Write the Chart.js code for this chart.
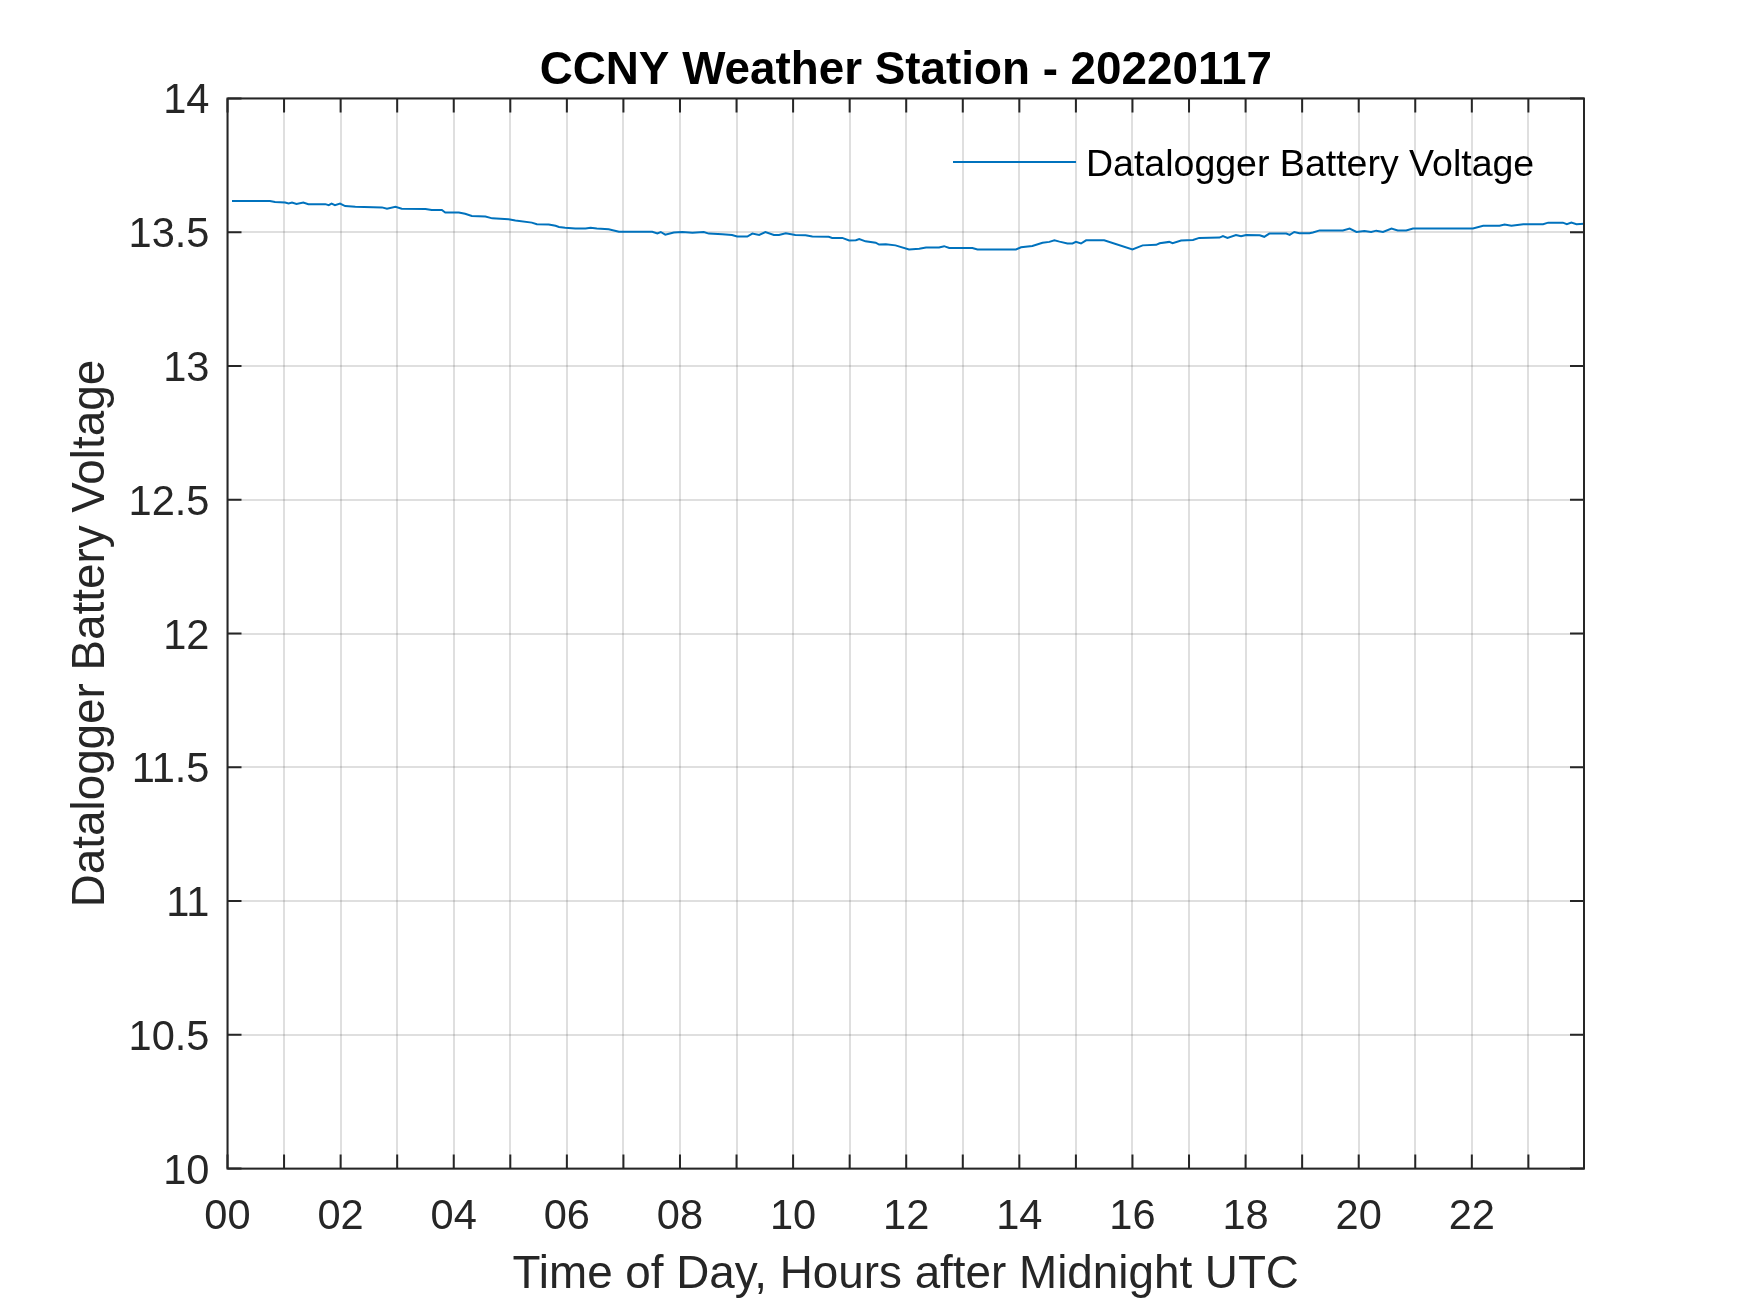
<!DOCTYPE html>
<html>
<head>
<meta charset="utf-8">
<title>CCNY Weather Station - 20220117</title>
<script src="https://cdn.jsdelivr.net/npm/chart.js@4.4.1/dist/chart.umd.min.js"></script>
<style>
    body { margin: 0; background: #fff; }
    #wrap { width: 1750px; height: 1313px; }
</style>
</head>
<body>
<div id="wrap"><canvas id="chart" width="1750" height="1313"></canvas></div>
<script>
// hours after midnight UTC
var hours = [
    0.08, 0.75, 0.84, 1.02, 1.08, 1.14, 1.22, 1.34, 1.43, 1.73,
    1.79, 1.84, 1.90, 1.99, 2.08, 2.26, 2.73, 2.82, 2.97, 3.08,
    3.50, 3.61, 3.79, 3.85, 4.09, 4.20, 4.32, 4.56, 4.68, 4.97,
    5.09, 5.38, 5.47, 5.68, 5.80, 5.86, 5.97, 6.15, 6.33, 6.42,
    6.53, 6.74, 6.92, 7.51, 7.60, 7.66, 7.74, 7.89, 8.04, 8.22,
    8.42, 8.51, 8.75, 8.92, 9.01, 9.19, 9.28, 9.40, 9.51, 9.66,
    9.75, 9.87, 10.04, 10.22, 10.34, 10.63, 10.69, 10.87, 10.99, 11.11,
    11.17, 11.28, 11.46, 11.52, 11.64, 11.81, 12.05, 12.23, 12.35, 12.58,
    12.67, 12.76, 13.17, 13.26, 13.94, 14.03, 14.23, 14.41, 14.53, 14.62,
    14.71, 14.85, 14.94, 15.00, 15.09, 15.18, 15.50, 16.00, 16.18, 16.42,
    16.48, 16.65, 16.71, 16.86, 17.07, 17.18, 17.54, 17.60, 17.68, 17.83,
    17.92, 18.01, 18.25, 18.33, 18.42, 18.72, 18.78, 18.86, 18.95, 19.13,
    19.19, 19.31, 19.72, 19.84, 19.96, 20.10, 20.22, 20.31, 20.43, 20.58,
    20.69, 20.84, 20.96, 22.02, 22.20, 22.49, 22.58, 22.70, 22.91, 23.26,
    23.35, 23.61, 23.68, 23.76, 23.85, 23.98
];
// datalogger battery voltage (V)
var volts = [
    13.617, 13.617, 13.613, 13.611, 13.608, 13.611, 13.606, 13.611, 13.605, 13.605,
    13.601, 13.607, 13.601, 13.607, 13.598, 13.595, 13.593, 13.588, 13.595, 13.588,
    13.587, 13.583, 13.583, 13.574, 13.574, 13.569, 13.561, 13.559, 13.552, 13.549,
    13.544, 13.536, 13.530, 13.529, 13.524, 13.520, 13.517, 13.514, 13.514, 13.517,
    13.514, 13.511, 13.502, 13.502, 13.496, 13.501, 13.491, 13.499, 13.501, 13.498,
    13.501, 13.495, 13.493, 13.490, 13.484, 13.484, 13.495, 13.490, 13.501, 13.490,
    13.490, 13.496, 13.490, 13.489, 13.484, 13.483, 13.479, 13.479, 13.469, 13.470,
    13.475, 13.466, 13.461, 13.454, 13.455, 13.451, 13.436, 13.438, 13.443, 13.443,
    13.448, 13.441, 13.441, 13.436, 13.436, 13.444, 13.449, 13.461, 13.464, 13.470,
    13.465, 13.458, 13.458, 13.464, 13.458, 13.470, 13.470, 13.436, 13.451, 13.453,
    13.459, 13.464, 13.459, 13.469, 13.471, 13.479, 13.480, 13.486, 13.479, 13.490,
    13.485, 13.490, 13.489, 13.483, 13.495, 13.495, 13.490, 13.501, 13.496, 13.496,
    13.499, 13.507, 13.507, 13.514, 13.501, 13.505, 13.501, 13.506, 13.501, 13.514,
    13.507, 13.507, 13.514, 13.514, 13.524, 13.524, 13.529, 13.524, 13.530, 13.530,
    13.536, 13.536, 13.530, 13.536, 13.530, 13.532
];
// tick labels, one per hour (odd hours have a tick but no label)
var hourLabels = ['00', '', '02', '', '04', '', '06', '', '08', '', '10', '',
                  '12', '', '14', '', '16', '', '18', '', '20', '', '22', ''];
var voltLabels = ['10', '10.5', '11', '11.5', '12', '12.5', '13', '13.5', '14'];

var FONT = '"Liberation Sans", Arial, Helvetica, sans-serif';
var AXIS_COLOR = '#262626';
var TICK_LEN = 14;

// MATLAB-style box with ticks pointing inwards
var boxPlugin = {
    id: 'matlabBox',
    afterDraw: function(chart) {
        var ctx = chart.ctx;
        var a = chart.chartArea;
        var xs = chart.scales.x;
        var ys = chart.scales.y;
        ctx.save();
        ctx.strokeStyle = AXIS_COLOR;
        ctx.lineWidth = 2;
        ctx.beginPath();
        xs.ticks.forEach(function(t) {
            var px = xs.getPixelForValue(t.value);
            ctx.moveTo(px, a.bottom);
            ctx.lineTo(px, a.bottom - TICK_LEN);
            ctx.moveTo(px, a.top);
            ctx.lineTo(px, a.top + TICK_LEN);
        });
        ys.ticks.forEach(function(t) {
            var py = ys.getPixelForValue(t.value);
            ctx.moveTo(a.left, py);
            ctx.lineTo(a.left + TICK_LEN, py);
            ctx.moveTo(a.right, py);
            ctx.lineTo(a.right - TICK_LEN, py);
        });
        ctx.stroke();
        ctx.strokeRect(a.left, a.top, a.right - a.left, a.bottom - a.top);

        // legend in the upper right corner
        var ds = chart.data.datasets[0];
        ctx.strokeStyle = ds.borderColor;
        ctx.lineWidth = 2;
        ctx.beginPath();
        ctx.moveTo(953, 162);
        ctx.lineTo(1076, 162);
        ctx.stroke();
        ctx.fillStyle = '#000';
        ctx.font = '37.5px ' + FONT;
        ctx.textAlign = 'left';
        ctx.textBaseline = 'alphabetic';
        ctx.fillText(ds.label, 1086, 176);
        ctx.restore();
    }
};

window.onload = function() {
    var points = hours.map(function(h, i) { return {x: h, y: volts[i]}; });
    var ctx = document.getElementById('chart').getContext('2d');
    new Chart(ctx, {
        type: 'line',
        data: {
            datasets: [{
                label: 'Datalogger Battery Voltage',
                data: points,
                borderColor: '#0072BD',
                backgroundColor: '#0072BD',
                borderWidth: 2,
                pointRadius: 0,
                tension: 0,
                fill: false
            }]
        },
        plugins: [boxPlugin],
        options: {
            responsive: false,
            animation: false,
            devicePixelRatio: 1,
            layout: { padding: { top: 0, right: 166, bottom: 0, left: 0 } },
            plugins: {
                legend: { display: false },
                tooltip: { enabled: false },
                title: {
                    display: true,
                    text: 'CCNY Weather Station - 20220117',
                    fullSize: false,
                    color: '#000',
                    font: { family: FONT, size: 45.8, weight: 'bold', lineHeight: 1.179 },
                    padding: { top: 44.5, bottom: 0 }
                }
            },
            scales: {
                x: {
                    type: 'linear',
                    min: 0,
                    max: 23.9833,
                    afterFit: function(s) { s.height = 144.4; },
                    grid: { color: 'rgba(38,38,38,0.15)', lineWidth: 2, drawTicks: false },
                    border: { display: false },
                    ticks: {
                        stepSize: 1,
                        includeBounds: false,
                        autoSkip: false,
                        maxRotation: 0,
                        padding: 23.8,
                        color: AXIS_COLOR,
                        font: { family: FONT, size: 41.6, lineHeight: 1.2 },
                        callback: function(v) {
                            var lbl = hourLabels[Math.round(v)];
                            return lbl === undefined ? '' : lbl;
                        }
                    },
                    title: {
                        display: true,
                        text: 'Time of Day, Hours after Midnight UTC',
                        color: AXIS_COLOR,
                        font: { family: FONT, size: 45.8, lineHeight: 1.2 },
                        padding: { top: 0, bottom: 10 }
                    }
                },
                y: {
                    min: 10,
                    max: 14,
                    afterFit: function(s) { s.width = 227.5; },
                    grid: { color: 'rgba(38,38,38,0.15)', lineWidth: 2, drawTicks: false },
                    border: { display: false },
                    ticks: {
                        stepSize: 0.5,
                        padding: 18,
                        labelOffset: 3.5,
                        color: AXIS_COLOR,
                        font: { family: FONT, size: 41.6, lineHeight: 1.2 },
                        callback: function(v) {
                            var lbl = voltLabels[Math.round((v - 10) * 2)];
                            return lbl === undefined ? '' : lbl;
                        }
                    },
                    title: {
                        display: true,
                        text: 'Datalogger Battery Voltage',
                        color: AXIS_COLOR,
                        font: { family: FONT, size: 45.8, lineHeight: 1.2 },
                        padding: { top: 64, bottom: 0 }
                    }
                }
            }
        }
    });
};
</script>
</body>
</html>
